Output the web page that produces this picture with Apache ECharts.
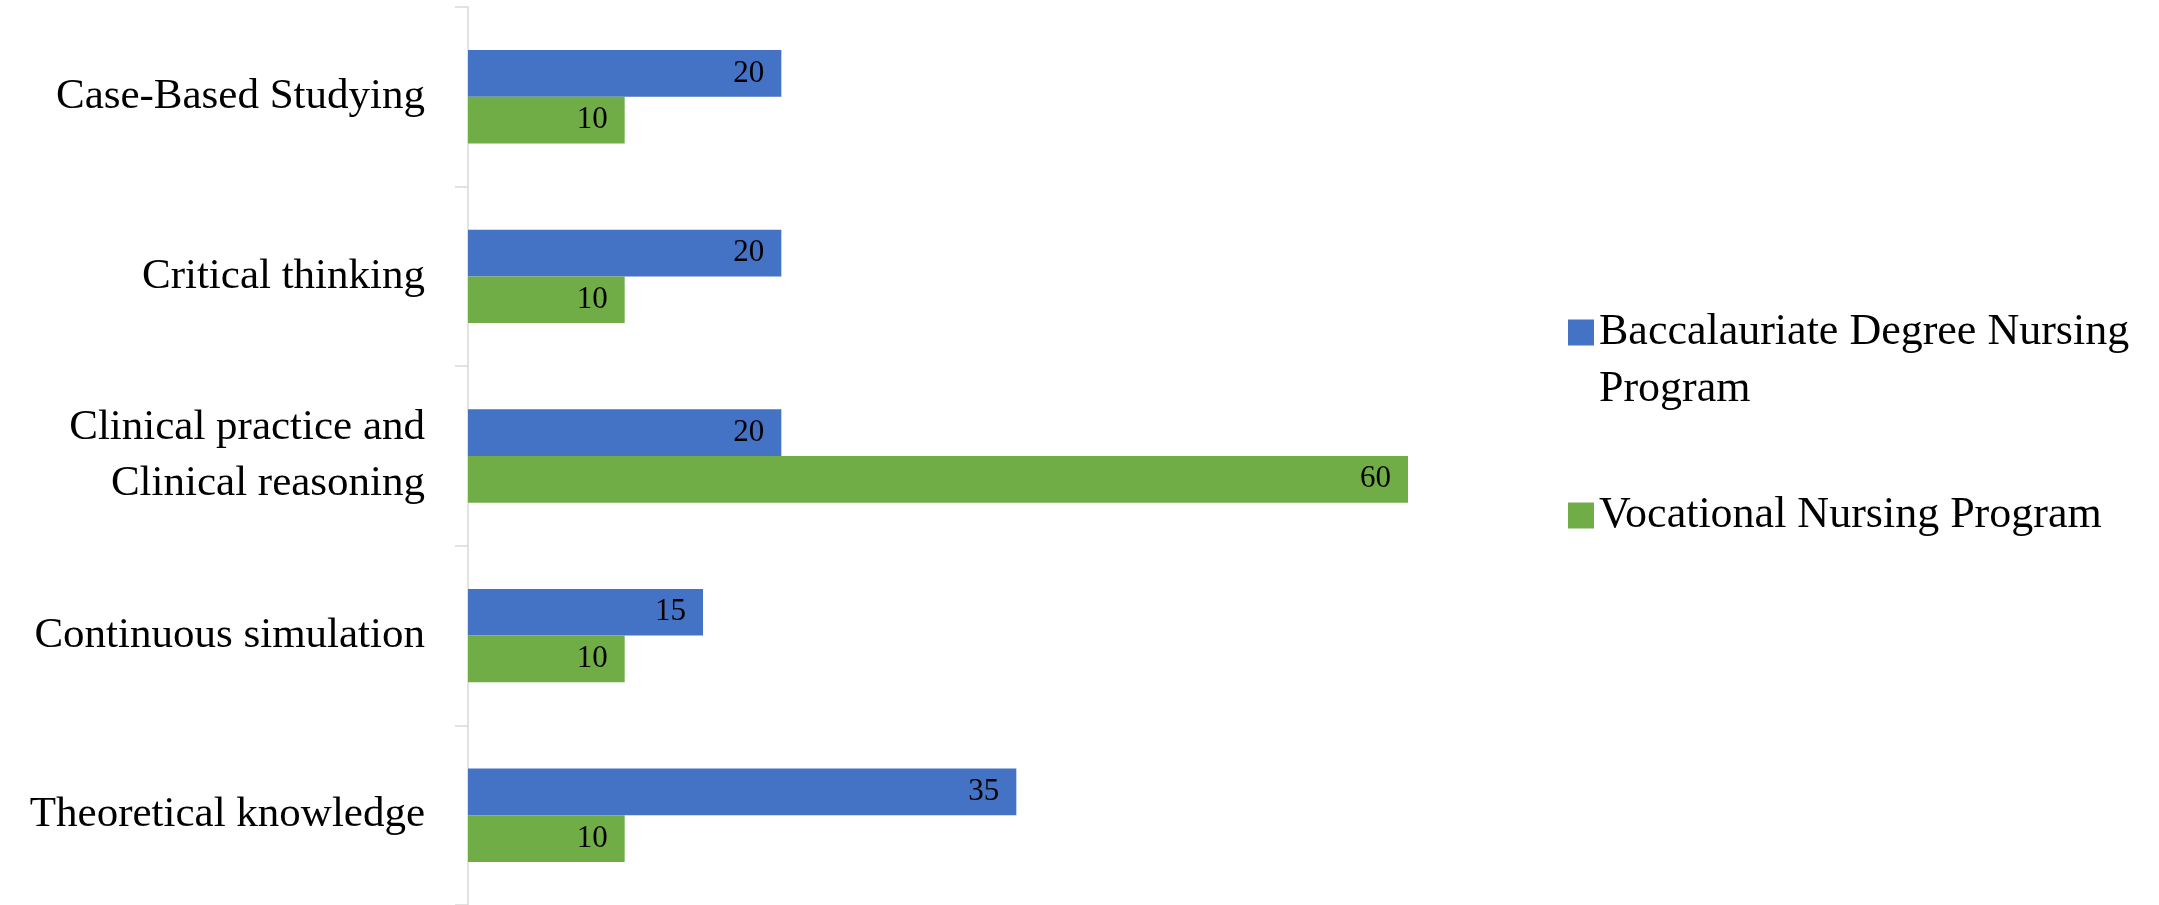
<!DOCTYPE html>
<html>
<head>
<meta charset="utf-8">
<script src="https://cdn.jsdelivr.net/npm/echarts@6/dist/echarts.min.js"></script>
<style>
  html, body { margin: 0; padding: 0; background: #fff; }
  #chart { width: 2159px; height: 905px; }
</style>
</head>
<body>
<div id="chart"></div>
<script>
const categories = [
  "Case-Based Studying",
  "Critical thinking",
  "Clinical practice and\nClinical reasoning",
  "Continuous simulation",
  "Theoretical knowledge"
];
const bachelorValues = [20, 20, 20, 15, 35];
const vocationalValues = [10, 10, 60, 10, 10];
const seriesNames = ["Baccalauriate Degree Nursing Program", "Vocational Nursing Program"];

const font = "Liberation Serif";
const chart = echarts.init(document.getElementById("chart"));

const barLabel = {
  show: true,
  position: "insideRight",
  distance: 17,
  color: "#000",
  fontFamily: font,
  fontSize: 31
};

chart.setOption({
  animation: false,
  grid: { left: 468, top: 7, width: 940, height: 900 },
  legend: {
    orient: "vertical",
    left: 1563,
    top: 242,
    icon: "rect",
    itemWidth: 26,
    itemHeight: 26,
    itemGap: 69,
    textStyle: { color: "#000", fontFamily: font, fontSize: 44, lineHeight: 57 },
    data: seriesNames,
    // leading blank line keeps the icon level with the first line of the wrapped name
    formatter: function (name) {
      return name === seriesNames[0] ? "\nBaccalauriate Degree Nursing\nProgram" : name;
    }
  },
  xAxis: { type: "value", min: 0, max: 60, show: false },
  yAxis: {
    type: "category",
    inverse: true,
    data: categories,
    axisLine: { show: true, lineStyle: { color: "#d9d9d9", width: 1.5 } },
    axisTick: { show: true, length: 13, lineStyle: { color: "#d9d9d9", width: 1.5 } },
    axisLabel: { color: "#000", fontFamily: font, fontSize: 43, lineHeight: 56, margin: 43 }
  },
  series: [
    {
      name: seriesNames[0],
      type: "bar",
      data: bachelorValues,
      itemStyle: { color: "#4472C4" },
      barCategoryGap: "48%",
      barGap: "0%",
      label: barLabel
    },
    {
      name: seriesNames[1],
      type: "bar",
      data: vocationalValues,
      itemStyle: { color: "#70AD47" },
      barCategoryGap: "48%",
      barGap: "0%",
      label: barLabel
    }
  ]
});
</script>
</body>
</html>
